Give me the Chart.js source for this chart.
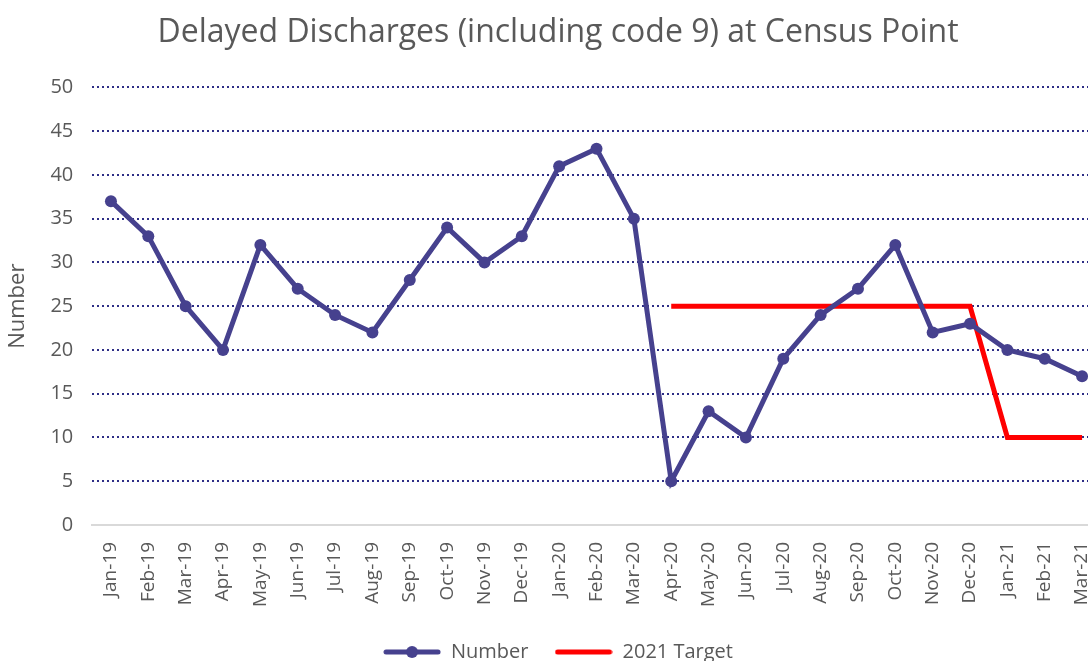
<!DOCTYPE html>
<html>
<head>
<meta charset="utf-8">
<script src="https://cdn.jsdelivr.net/npm/chart.js@4.4.1/dist/chart.umd.min.js"></script>
<style>
  html, body { margin: 0; padding: 0; background: #fff; overflow: hidden; }
  #wrap { position: relative; width: 1114px; height: 672px; }
</style>
</head>
<body>
<div id="wrap"><canvas id="ddChart"></canvas></div>
<script>
const months = ["Jan-19", "Feb-19", "Mar-19", "Apr-19", "May-19", "Jun-19", "Jul-19", "Aug-19", "Sep-19",
    "Oct-19", "Nov-19", "Dec-19", "Jan-20", "Feb-20", "Mar-20", "Apr-20", "May-20", "Jun-20",
    "Jul-20", "Aug-20", "Sep-20", "Oct-20", "Nov-20", "Dec-20", "Jan-21", "Feb-21", "Mar-21"];

const numberData = [37, 33, 25, 20, 32, 27, 24, 22, 28, 34, 30, 33, 41, 43, 35, 5, 13, 10,
    19, 24, 27, 32, 22, 23, 20, 19, 17];

const targetData = [null, null, null, null, null, null, null, null, null, null, null, null, null, null, null,
    25, 25, 25, 25, 25, 25, 25, 25, 25, 10, 10, 10];

const navy = "#46418E";
const textGrey = "#595959";

// little legend swatches: line, with a dot for the Number series
function legendSwatch(color, withDot) {
    const c = document.createElement("canvas");
    c.width = 58;
    c.height = 16;
    const ctx = c.getContext("2d");
    ctx.strokeStyle = color;
    ctx.lineWidth = 5;
    ctx.lineCap = "round";
    ctx.beginPath();
    ctx.moveTo(3, 8);
    ctx.lineTo(55, 8);
    ctx.stroke();
    if (withDot) {
        ctx.fillStyle = color;
        ctx.beginPath();
        ctx.arc(29, 8, 6, 0, Math.PI * 2);
        ctx.fill();
    }
    return c;
}

const swatches = [legendSwatch(navy, true), legendSwatch("#FF0000", false)];

const ddChart = new Chart(
    document.getElementById("ddChart"),
    {
        type: "line",
        data: {
            labels: months,
            datasets: [{
                label: "Number",
                data: numberData,
                borderColor: navy,
                backgroundColor: navy,
                borderWidth: 5,
                pointRadius: 6,
                pointHoverRadius: 6,
                pointBackgroundColor: navy,
                pointBorderWidth: 0,
                fill: false,
                tension: 0
            }, {
                label: "2021 Target",
                data: targetData,
                borderColor: "#FF0000",
                backgroundColor: "#FF0000",
                borderWidth: 5,
                pointRadius: 0,
                fill: false,
                tension: 0,
                spanGaps: false
            }]
        },
        options: {
            responsive: true,
            maintainAspectRatio: false,
            animation: false,
            layout: { padding: { left: 5, right: 3, top: 0, bottom: 0 } },
            plugins: {
                title: {
                    display: true,
                    text: "Delayed Discharges (including code 9) at Census Point",
                    color: textGrey,
                    font: { family: "Open Sans", size: 32, weight: "normal" },
                    padding: { top: 14, bottom: 35 }
                },
                legend: {
                    position: "bottom",
                    labels: {
                        color: textGrey,
                        font: { family: "Open Sans", size: 20 },
                        usePointStyle: true,
                        pointStyleWidth: 58,
                        padding: 26,
                        generateLabels: chart => {
                            const items = Chart.defaults.plugins.legend.labels.generateLabels(chart);
                            items.forEach((item, i) => {
                                item.pointStyle = swatches[i];
                            });
                            return items;
                        }
                    }
                },
                tooltip: { enabled: false }
            },
            scales: {
                x: {
                    offset: true,
                    grid: { display: false },
                    border: { display: true, color: "#D9D9D9", width: 2 },
                    ticks: {
                        color: textGrey,
                        font: { family: "Open Sans", size: 19 },
                        maxRotation: 90,
                        minRotation: 90,
                        autoSkip: false,
                        padding: 9
                    }
                },
                y: {
                    min: 0,
                    max: 50,
                    title: {
                        display: true,
                        text: "Number",
                        color: textGrey,
                        font: { family: "Open Sans", size: 22 },
                        padding: { top: 0, bottom: 0 }
                    },
                    grid: {
                        color: ctx => ctx.tick && ctx.tick.value === 0 ? "rgba(0,0,0,0)" : "#2E2E86",
                        lineWidth: 2,
                        drawTicks: false
                    },
                    border: { display: false, dash: [2, 3] },
                    ticks: {
                        stepSize: 5,
                        color: textGrey,
                        font: { family: "Open Sans", size: 20 },
                        padding: 19
                    }
                }
            }
        }
    }
);
</script>
</body>
</html>
